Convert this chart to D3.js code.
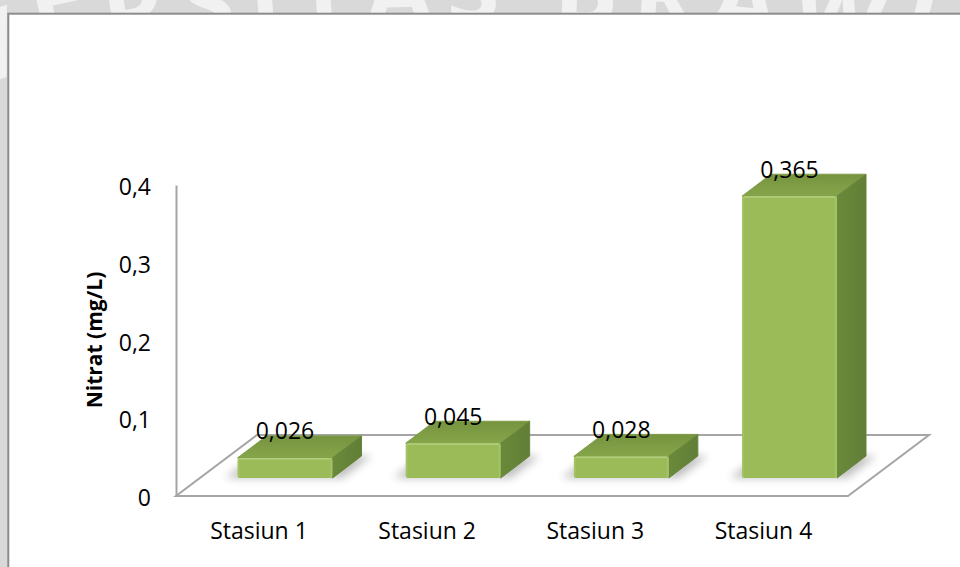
<!DOCTYPE html>
<html>
<head>
<meta charset="utf-8">
<script src="https://cdn.jsdelivr.net/npm/d3@7"></script>
<style>
  html, body { margin: 0; padding: 0; background: #d9d9d9; overflow: hidden; }
  svg { display: block; }
  text { font-family: "Open Sans", "Noto Sans", sans-serif; }
</style>
</head>
<body>
<svg id="chart" width="960" height="567"></svg>
<script>
// Nitrate concentration per sampling station
const categories = ["Stasiun 1", "Stasiun 2", "Stasiun 3", "Stasiun 4"];
const nitrat = [0.026, 0.045, 0.028, 0.365];
const valueLabels = ["0,026", "0,045", "0,028", "0,365"];
const yTicks = [0, 0.1, 0.2, 0.3, 0.4];
const yTickLabels = ["0", "0,1", "0,2", "0,3", "0,4"];
const yTitle = "Nitrat (mg/L)";
const watermarkText = "UNIVERSITAS BRAWIJAYA";

const svg = d3.select("#chart");
const W = 960, H = 567;

// ---- background watermark (behind the chart box) ----
const defs = svg.append("defs");
const arcRx = 560, arcRy = 118, arcCx = 480, arcCy = 140;
defs.append("path")
  .attr("id", "wmArc")
  .attr("d", `M ${arcCx - arcRx},${arcCy} A ${arcRx},${arcRy} 0 0 1 ${arcCx + arcRx},${arcCy}`);
svg.append("text")
  .attr("font-size", 96)
  .attr("font-weight", 700)
  .attr("fill", "#f1f1f1")
  .attr("letter-spacing", 14)
  .append("textPath")
  .attr("href", "#wmArc")
  .attr("startOffset", "50%")
  .attr("text-anchor", "middle")
  .text(watermarkText);

// ---- chart box ----
svg.append("rect")
  .attr("x", 8.3).attr("y", 13.7)
  .attr("width", W + 20).attr("height", H + 20)
  .attr("fill", "#ffffff")
  .attr("stroke", "#8c8c8c")
  .attr("stroke-width", 2);

// ---- scales ----
const floorY = 496;             // front edge of the floor (value 0)
const floorX0 = 176, floorX1 = 848;
const floorDx = 81, floorDy = -61;

const y = d3.scaleLinear().domain([0, 0.4]).range([floorY, 185]);
const barBase = 478;            // bars stand a little back on the floor
const yBar = d3.scaleLinear().domain([0, 0.4]).range([barBase, barBase - 0.4 * 772]);
const x = d3.scalePoint().domain(categories).range([285, 789.5]);
const barW = 95;
const depthDx = 29, depthDy = -22;

// ---- floor ----
svg.append("path")
  .attr("d", d3.line()([
    [floorX0, floorY], [floorX1, floorY],
    [floorX1 + floorDx, floorY + floorDy], [floorX0 + floorDx, floorY + floorDy]
  ]) + "Z")
  .attr("fill", "none")
  .attr("stroke", "#a5a5a5")
  .attr("stroke-width", 2)
  .attr("stroke-linejoin", "miter");

// ---- value axis ----
const yAxis = svg.append("g")
  .attr("transform", `translate(${floorX0},0)`)
  .call(d3.axisLeft(y).tickValues(yTicks)
    .tickFormat((d, i) => yTickLabels[i])
    .tickSize(0).tickSizeOuter(0).tickPadding(25));
yAxis.select(".domain").attr("stroke", "#a5a5a5").attr("stroke-width", 2);
yAxis.selectAll(".tick text")
  .attr("font-size", 23)
  .attr("fill", "#000")
  .attr("dy", "0.42em")
  .style("font-family", "'Open Sans', sans-serif");

svg.append("text")
  .attr("transform", `translate(95,340) rotate(-90)`)
  .attr("text-anchor", "middle")
  .attr("dy", "0.35em")
  .attr("font-size", 21)
  .attr("font-weight", 700)
  .attr("fill", "#000")
  .text(yTitle);

// ---- bar gradients / filters ----
const shadow = defs.append("filter").attr("id", "shadowBlur")
  .attr("x", "-30%").attr("y", "-60%").attr("width", "160%").attr("height", "220%");
shadow.append("feGaussianBlur").attr("stdDeviation", 4.5);

const gFront = defs.append("linearGradient").attr("id", "gFront")
  .attr("x1", 0).attr("x2", 1).attr("y1", 0).attr("y2", 0);
gFront.append("stop").attr("offset", "0%").attr("stop-color", "#a7c66a");
gFront.append("stop").attr("offset", "3%").attr("stop-color", "#9bbb59");
gFront.append("stop").attr("offset", "97%").attr("stop-color", "#9bbb59");
gFront.append("stop").attr("offset", "100%").attr("stop-color", "#a9c86d");

const gTop = defs.append("linearGradient").attr("id", "gTop")
  .attr("x1", 0).attr("x2", 0).attr("y1", 1).attr("y2", 0);
gTop.append("stop").attr("offset", "0%").attr("stop-color", "#86a64a");
gTop.append("stop").attr("offset", "100%").attr("stop-color", "#76933f");

const gSide = defs.append("linearGradient").attr("id", "gSide")
  .attr("x1", 0).attr("x2", 1).attr("y1", 0).attr("y2", 0);
gSide.append("stop").attr("offset", "0%").attr("stop-color", "#6a8a3a");
gSide.append("stop").attr("offset", "100%").attr("stop-color", "#617e36");

const data = categories.map((c, i) => ({ cat: c, v: nitrat[i], label: valueLabels[i] }));

// soft shadows under each bar
svg.append("g").selectAll("path").data(data).join("path")
  .attr("d", d => {
    const x0 = x(d.cat) - barW / 2 - 12, x1 = x(d.cat) + barW / 2 + 10;
    return d3.line()([
      [x0, barBase], [x1, barBase],
      [x1 + depthDx, barBase + depthDy], [x0 + depthDx, barBase + depthDy]
    ]) + "Z";
  })
  .attr("fill", "#8a8a8a")
  .attr("opacity", 0.55)
  .attr("filter", "url(#shadowBlur)");

const bars = svg.append("g").selectAll("g").data(data).join("g");

// top face
bars.append("path")
  .attr("d", d => {
    const x0 = x(d.cat) - barW / 2, x1 = x(d.cat) + barW / 2, yt = yBar(d.v);
    return d3.line()([
      [x0, yt], [x1, yt], [x1 + depthDx, yt + depthDy], [x0 + depthDx, yt + depthDy]
    ]) + "Z";
  })
  .attr("fill", "url(#gTop)")
  .attr("stroke", "#7d9c45").attr("stroke-width", 1).attr("stroke-linejoin", "round");

// right side face
bars.append("path")
  .attr("d", d => {
    const x1 = x(d.cat) + barW / 2, yt = yBar(d.v);
    return d3.line()([
      [x1, yt], [x1 + depthDx, yt + depthDy],
      [x1 + depthDx, barBase + depthDy], [x1, barBase]
    ]) + "Z";
  })
  .attr("fill", "url(#gSide)")
  .attr("stroke", "#67853a").attr("stroke-width", 1).attr("stroke-linejoin", "round");

// front face
bars.append("rect")
  .attr("x", d => x(d.cat) - barW / 2)
  .attr("y", d => yBar(d.v))
  .attr("width", barW)
  .attr("height", d => barBase - yBar(d.v))
  .attr("rx", 2)
  .attr("fill", "url(#gFront)");
bars.append("line")
  .attr("x1", d => x(d.cat) - barW / 2 + 2)
  .attr("x2", d => x(d.cat) + barW / 2 - 2)
  .attr("y1", d => yBar(d.v) + 0.8)
  .attr("y2", d => yBar(d.v) + 0.8)
  .attr("stroke", "#b4cf80").attr("stroke-width", 1.5);

// value labels
svg.append("g").selectAll("text").data(data).join("text")
  .attr("x", d => x(d.cat))
  .attr("y", d => yBar(d.v) - 27)
  .attr("dy", "0.36em")
  .attr("text-anchor", "middle")
  .attr("font-size", 23)
  .attr("fill", "#000")
  .text(d => d.label);

// category labels
svg.append("g").selectAll("text").data(categories).join("text")
  .attr("x", d => x(d) - 26)
  .attr("y", 531)
  .attr("dy", "0.36em")
  .attr("text-anchor", "middle")
  .attr("font-size", 23)
  .attr("fill", "#000")
  .text(d => d);
</script>
</body>
</html>
